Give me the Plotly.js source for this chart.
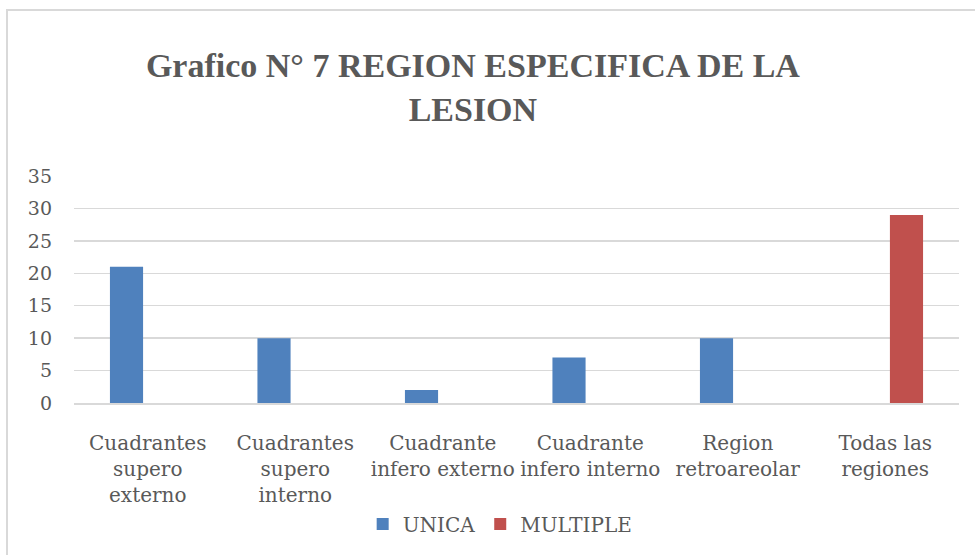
<!DOCTYPE html>
<html>
<head>
<meta charset="utf-8">
<script src="https://cdn.plot.ly/plotly-3.0.1.min.js"></script>
<style>
  html, body { margin: 0; padding: 0; background: #fff; }
  #wrap { position: relative; width: 975px; height: 555px; overflow: hidden; }
  #chart { position: absolute; left: 0; top: 0; width: 975px; height: 555px; }
  #frame { position: absolute; left: 6px; top: 9px; width: 1000px; height: 544px;
           border-left: 2px solid #d9d9d9; border-top: 2px solid #d9d9d9; pointer-events: none; }
</style>
</head>
<body>
<div id="wrap">
  <div id="chart"></div>
  <div id="frame"></div>
</div>
<script>
const categories = [
  "Cuadrantes<br>supero<br>externo",
  "Cuadrantes<br>supero<br>interno",
  "Cuadrante<br>infero externo",
  "Cuadrante<br>infero interno",
  "Region<br>retroareolar",
  "Todas las<br>regiones"
];
const unica = [21, 10, 2, 7, 10, 0];
const multiple = [0, 0, 0, 0, 0, 29];
const yTicks = [0, 5, 10, 15, 20, 25, 30, 35];

const txt = "#595959";
const serif = "DejaVu Serif, serif";

const traces = [
  { type: "bar", name: "UNICA", x: categories, y: unica,
    marker: { color: "#4F81BD" }, hoverinfo: "none" },
  { type: "bar", name: "MULTIPLE", x: categories, y: multiple,
    marker: { color: "#C0504D" }, hoverinfo: "none" }
];

const layout = {
  width: 975, height: 555,
  paper_bgcolor: "rgba(0,0,0,0)", plot_bgcolor: "rgba(0,0,0,0)",
  margin: { l: 74, r: 16, t: 176, b: 152 },
  barmode: "group", bargap: 0.424, bargroupgap: 0.22,
  title: {
    text: "Grafico N° 7 REGION ESPECIFICA DE LA<br>LESION",
    font: { family: "Liberation Serif, serif", size: 34, color: txt, weight: "bold" },
    x: 0.485, xanchor: "center", xref: "container",
    y: 1 - 77 / 555, yanchor: "middle", yref: "container"
  },
  xaxis: {
    type: "category", tickfont: { family: serif, size: 20, color: txt },
    showgrid: false, showline: true, linecolor: "#d9d9d9", linewidth: 2,
    ticks: "", tickangle: 0, ticklabelstandoff: 21, automargin: false
  },
  yaxis: {
    range: [0, 35], tickvals: yTicks, ticktext: yTicks.map(String),
    tickfont: { family: serif, size: 19, color: txt },
    showgrid: true, gridcolor: "#d9d9d9", gridwidth: 1.5,
    zeroline: false, showline: false, ticks: "", ticklabelstandoff: 21, automargin: false
  },
  showlegend: true,
  legend: {
    orientation: "h", xref: "container", yref: "container",
    x: 0.513, xanchor: "center", y: 1 - 524 / 555, yanchor: "middle",
    font: { family: serif, size: 20, color: txt }, itemwidth: 30
  }
};

Plotly.newPlot("chart", traces, layout, { staticPlot: true, displayModeBar: false });
</script>
</body>
</html>
